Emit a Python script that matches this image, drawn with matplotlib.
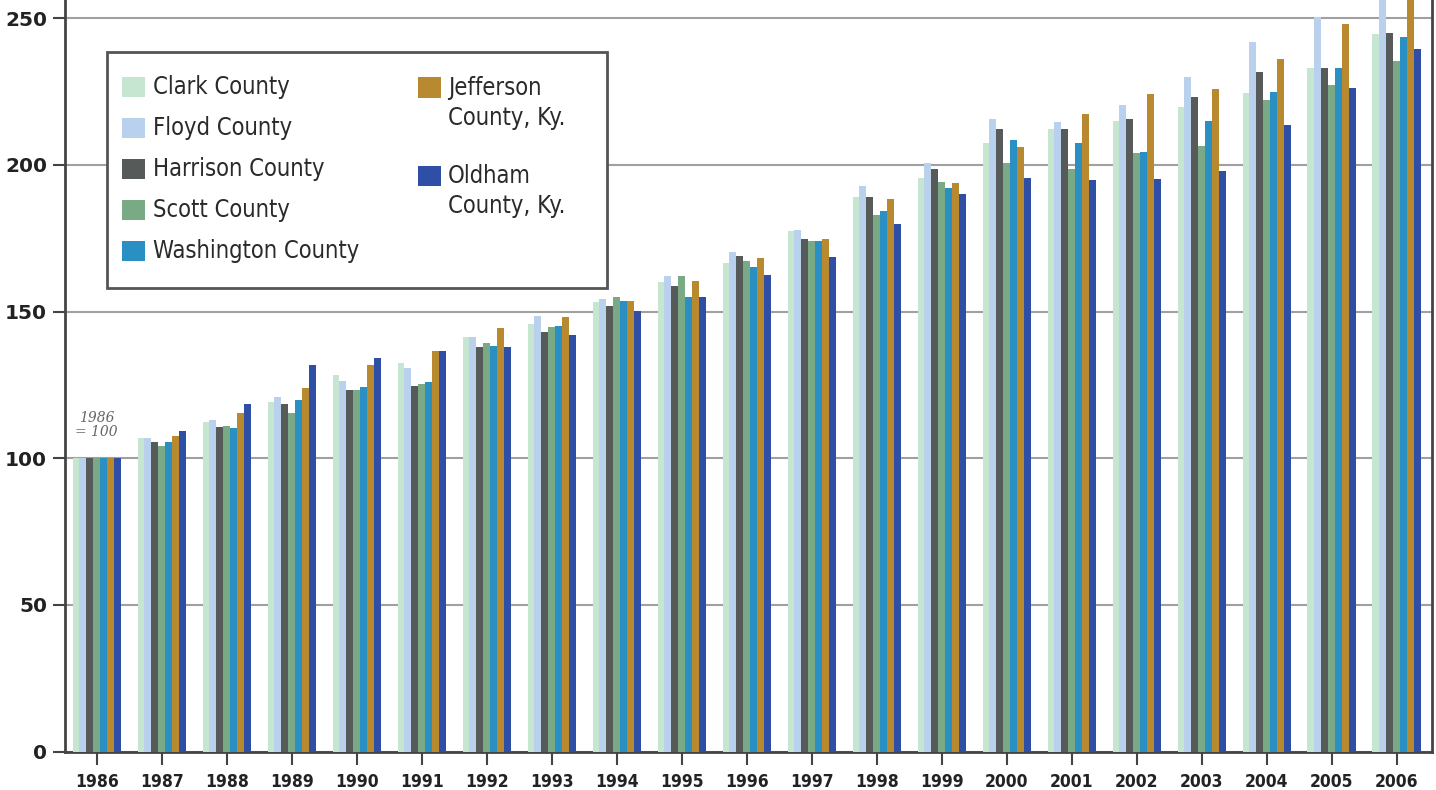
import matplotlib
matplotlib.use("Agg")
import matplotlib.pyplot as plt
from matplotlib.patches import Rectangle
import numpy as np

years = [str(y) for y in range(1986, 2007)]
series_names = ["Clark County", "Floyd County", "Harrison County", "Scott County",
                "Washington County", "Jefferson\nCounty, Ky.", "Oldham\nCounty, Ky."]
colors = ["#c6e6d2", "#b9d1ec", "#565a59", "#79a985", "#2a8fc2", "#b8892e", "#2f4fa6"]

clark = [100, 106.8, 112.3, 119.3, 128.4, 132.4, 141.2, 145.8, 153.1, 160.2, 166.7,
         177.3, 189.1, 195.4, 207.3, 212.4, 215.0, 219.7, 224.5, 233.0, 244.7]
floyd = [100, 106.8, 113.1, 120.8, 126.5, 130.9, 141.2, 148.5, 154.4, 162.1, 170.4,
         177.9, 192.8, 200.7, 215.5, 214.7, 220.4, 230.0, 241.9, 250.5, 262.0]
harrison = [100, 105.4, 110.8, 118.5, 123.3, 124.7, 137.8, 143.2, 152.0, 158.8, 169.0,
            174.8, 189.1, 198.5, 212.4, 212.1, 215.8, 223.0, 231.6, 233.0, 244.9]
scott = [100, 104.2, 111.1, 115.4, 123.3, 125.3, 139.4, 144.6, 155.0, 162.0, 167.2,
         174.2, 182.9, 194.3, 200.7, 198.5, 203.9, 206.4, 222.2, 227.3, 235.4]
washington = [100, 105.4, 110.2, 119.9, 124.4, 125.9, 138.3, 145.1, 153.7, 155.1, 165.3,
              173.9, 184.3, 192.0, 208.4, 207.5, 204.5, 214.8, 224.7, 233.0, 243.7]
jefferson = [100, 107.6, 115.4, 123.9, 131.8, 136.4, 144.3, 148.0, 153.5, 160.5, 168.1,
             174.8, 188.5, 193.9, 206.2, 217.2, 224.3, 226.0, 236.2, 248.0, 265.0]
oldham = [100, 109.3, 118.5, 131.8, 134.1, 136.4, 138.0, 142.0, 150.1, 155.0, 162.5,
          168.5, 180.0, 190.0, 195.4, 194.8, 195.3, 198.0, 213.6, 226.2, 239.4]

series = [clark, floyd, harrison, scott, washington, jefferson, oldham]
yticks = [0, 50, 100, 150, 200, 250]

fig = plt.figure(figsize=(14.36, 7.90), dpi=100)
ax = fig.add_axes([65/1436, 38.3/790, (1431.7-65)/1436, 1 - 38.3/790])

x = np.arange(len(years))
bw = 0.106
for i, (vals, c) in enumerate(zip(series, colors)):
    ax.bar(x + (i - 3) * bw, vals, width=bw, color=c, zorder=3, linewidth=0)

ax.set_xlim(-0.488, 20.54)
ax.set_ylim(0, 256.2)
ax.set_yticks(yticks)
ax.set_yticklabels([str(t) for t in yticks], fontfamily="DejaVu Sans",
                   fontweight="bold", fontsize=14.5, color="#222222")
ax.set_xticks(x)
ax.set_xticklabels(years, fontfamily="DejaVu Sans", fontstretch="condensed",
                   fontweight="bold", fontsize=12.5, color="#222222")
ax.tick_params(axis="y", length=9, width=1.5, color="#444444", pad=4)
ax.tick_params(axis="x", length=9, width=1.5, color="#444444", pad=6)

ax.grid(axis="y", color="#a0a0a0", linewidth=1.5, zorder=1)
ax.set_axisbelow(True)
for side in ["left", "right", "bottom"]:
    ax.spines[side].set_color("#444444")
    ax.spines[side].set_linewidth(2)
ax.spines["top"].set_visible(False)
ax.spines["bottom"].set_zorder(2)

ax.text(0.0, 111.5, "1986\n= 100", fontsize=10, style="italic",
        fontfamily="DejaVu Serif", color="#666666", ha="center", va="center",
        linespacing=1.0)

# Legend drawn manually (two columns with wrapped labels)
def fx(px):
    return px / 1436
def fy(py):
    return 1 - py / 790

frame = Rectangle((fx(107.5), fy(288.3)), fx(607.3) - fx(107.5), fy(51.7) - fy(288.3),
                  transform=fig.transFigure, facecolor="white", edgecolor="#555555",
                  linewidth=2, zorder=10)
fig.patches.append(frame)

legend_font = dict(fontfamily="DejaVu Sans", fontstretch="condensed", fontsize=17,
                   color="#2a2a2a", va="center", ha="left", zorder=11)
left_centers = [86.7, 128.3, 169.3, 210.0, 250.7]
for i in range(5):
    cy = left_centers[i]
    fig.patches.append(Rectangle((fx(122), fy(cy + 10)), fx(23), 20/790,
                                 transform=fig.transFigure, facecolor=colors[i],
                                 edgecolor="none", zorder=11))
    fig.text(fx(153), fy(cy), series_names[i], **legend_font)

right_centers = [87.5, 176.0]
for j, idx in enumerate([5, 6]):
    cy = right_centers[j]
    fig.patches.append(Rectangle((fx(418), fy(cy + 10)), fx(23), 20/790,
                                 transform=fig.transFigure, facecolor=colors[idx],
                                 edgecolor="none", zorder=11))
    first, second = series_names[idx].split("\n")
    fig.text(fx(448), fy(cy), first, **legend_font)
    fig.text(fx(448), fy(cy + 30), second, **legend_font)

fig.savefig("out.png", dpi=100)
